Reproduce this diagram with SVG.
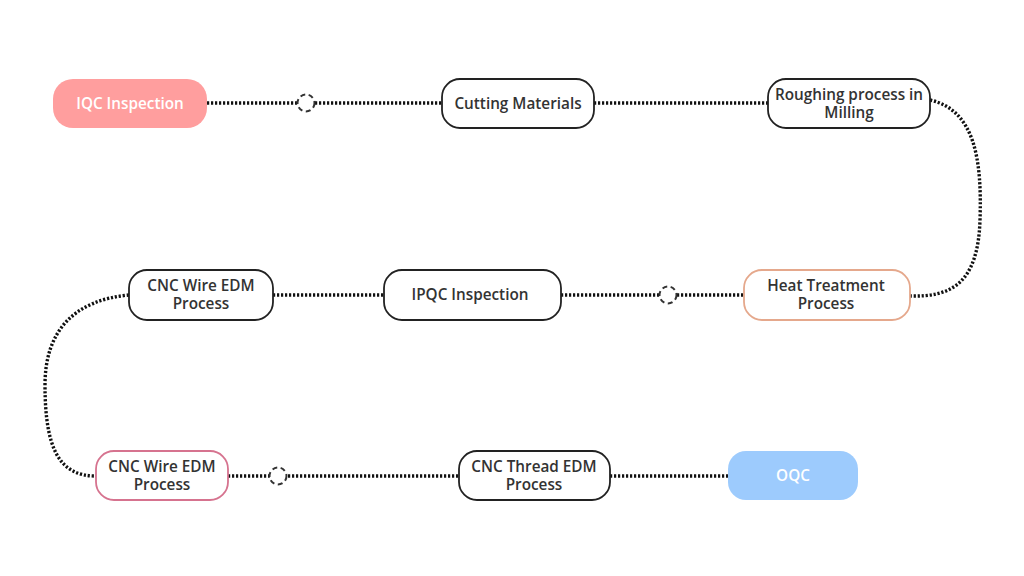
<svg xmlns="http://www.w3.org/2000/svg" width="1024" height="576" viewBox="0 0 1024 576">
<style>
.n{fill:#fff;stroke:#222;stroke-width:1.8}
.t{font-family:"Open Sans","Liberation Sans",sans-serif;font-weight:600;font-size:15.3px;fill:#333;text-anchor:middle}
.w{fill:#fff}
.c{fill:none;stroke:#111;stroke-width:3.4;stroke-dasharray:2.2 1.8}
.k{fill:#fff;stroke:#333;stroke-width:2;stroke-dasharray:5 3.5}
</style>
<rect width="1024" height="576" fill="#fff"/>
<g id="connectors">
<path class="c" d="M207,103 H442"/>
<path class="c" d="M594,103 H768"/>
<path class="c" d="M930,100 C975,110 982,160 980,220 C978,285 950,297 910,296"/>
<path class="c" d="M561,295 H744"/>
<path class="c" d="M273,295 H384"/>
<path class="c" d="M129,295 C75,300 45,330 45,385 C45,450 60,476 96,476"/>
<path class="c" d="M228,476 H459"/>
<path class="c" d="M610,476 H728"/>
<circle class="k" cx="306" cy="103" r="8.5"/>
<circle class="k" cx="668" cy="295" r="8.5"/>
<circle class="k" cx="278" cy="476" r="8.5"/>
</g>
<g id="n1"><rect x="53" y="79" width="154" height="49" rx="20" fill="#FF9E9E"/><text class="t w" x="130" y="109">IQC Inspection</text></g>
<g id="n2"><rect class="n" x="442" y="79" width="152" height="49" rx="18"/><text class="t" x="518" y="109">Cutting Materials</text></g>
<g id="n3"><rect class="n" x="768" y="79" width="162" height="49" rx="18"/><text class="t" x="849" y="100">Roughing process in</text><text class="t" x="849" y="118">Milling</text></g>
<g id="n4"><rect class="n" x="744" y="270" width="166" height="50" rx="18" style="stroke:#E5A88C"/><text class="t" x="826" y="291">Heat Treatment</text><text class="t" x="826" y="309">Process</text></g>
<g id="n5"><rect class="n" x="384" y="270" width="177" height="50" rx="18"/><text class="t" x="470" y="300">IPQC Inspection</text></g>
<g id="n6"><rect class="n" x="129" y="270" width="144" height="50" rx="18"/><text class="t" x="201" y="291">CNC Wire EDM</text><text class="t" x="201" y="309">Process</text></g>
<g id="n7"><rect class="n" x="96" y="451" width="132" height="49" rx="18" style="stroke:#D6738F"/><text class="t" x="162" y="472">CNC Wire EDM</text><text class="t" x="162" y="490">Process</text></g>
<g id="n8"><rect class="n" x="459" y="451" width="151" height="49" rx="18"/><text class="t" x="534" y="472">CNC Thread EDM</text><text class="t" x="534" y="490">Process</text></g>
<g id="n9"><rect x="728" y="451" width="130" height="49" rx="18" fill="#9DCBFD"/><text class="t w" x="793" y="481">OQC</text></g>
</svg>
